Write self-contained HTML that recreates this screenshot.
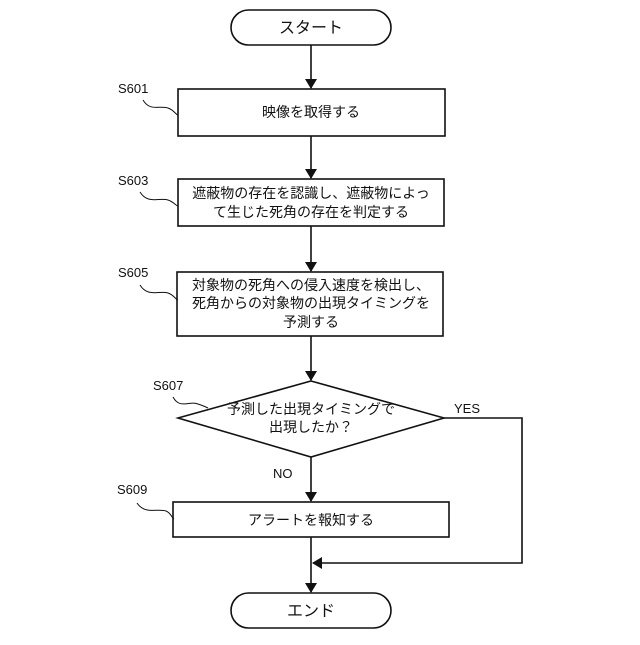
<!DOCTYPE html>
<html><head><meta charset="utf-8"><style>
body{margin:0;background:#fff}
svg text{font-family:"Liberation Sans","Noto Sans CJK JP",sans-serif;fill:#111}
</style></head><body>
<svg width="640" height="640" viewBox="0 0 640 640" xmlns="http://www.w3.org/2000/svg">
<defs><marker id="a" markerWidth="10" markerHeight="12" refX="9" refY="6" orient="auto" markerUnits="userSpaceOnUse"><path d="M0,0 L10,6 L0,12 z" fill="#111"/></marker></defs>
<g fill="none" stroke="#111" stroke-width="1.6">
<rect x="231" y="10" width="160" height="35" rx="17.5" fill="#fff"/>
<rect x="178" y="89" width="267" height="47"/>
<rect x="178" y="179" width="266" height="47"/>
<rect x="177" y="272" width="266" height="64"/>
<polygon points="311,381 444,418 311,457 178,418"/>
<rect x="173" y="502" width="276" height="35"/>
<rect x="231" y="593" width="160" height="35" rx="17.5" fill="#fff"/>
<line x1="311" y1="45" x2="311" y2="88" marker-end="url(#a)"/>
<line x1="311" y1="136" x2="311" y2="178" marker-end="url(#a)"/>
<line x1="311" y1="226" x2="311" y2="271" marker-end="url(#a)"/>
<line x1="311" y1="336" x2="311" y2="380" marker-end="url(#a)"/>
<line x1="311" y1="457" x2="311" y2="501" marker-end="url(#a)"/>
<line x1="311" y1="537" x2="311" y2="592" marker-end="url(#a)"/>
<polyline points="444,418 522,418 522,563 313,563" marker-end="url(#a)"/>
<g stroke-width="1">
<path d="M143,100 C150,112 160,105 168,108 C174,110 176,115 178,115"/>
<path d="M140,192 C148,205 160,197 168,200 C174,202 176,206 178,206"/>
<path d="M140,285 C148,298 160,290 168,293 C174,295 176,300 178,300"/>
<path d="M173,397 C180,410 190,400 198,404 C204,406 206,407 208,408"/>
<path d="M137,503 C145,515 158,508 166,511 C171,513 172,518 174,519"/>
</g>
</g>
<g font-size="14" text-anchor="middle">
<text x="311" y="33" font-size="16">スタート</text>
<text x="311" y="117">映像を取得する</text>
<text x="311" y="198">遮蔽物の存在を認識し、遮蔽物によっ</text>
<text x="311" y="217">て生じた死角の存在を判定する</text>
<text x="311" y="290">対象物の死角への侵入速度を検出し、</text>
<text x="311" y="308">死角からの対象物の出現タイミングを</text>
<text x="311" y="327">予測する</text>
<text x="311" y="414">予測した出現タイミングで</text>
<text x="311" y="432">出現したか？</text>
<text x="311" y="525">アラートを報知する</text>
<text x="311" y="616" font-size="16">エンド</text>
</g>
<g font-size="13">
<text x="118" y="93">S601</text>
<text x="118" y="185">S603</text>
<text x="118" y="277">S605</text>
<text x="153" y="390">S607</text>
<text x="117" y="494">S609</text>
<text x="454" y="413">YES</text>
<text x="273" y="478">NO</text>
</g>
</svg>
</body></html>
